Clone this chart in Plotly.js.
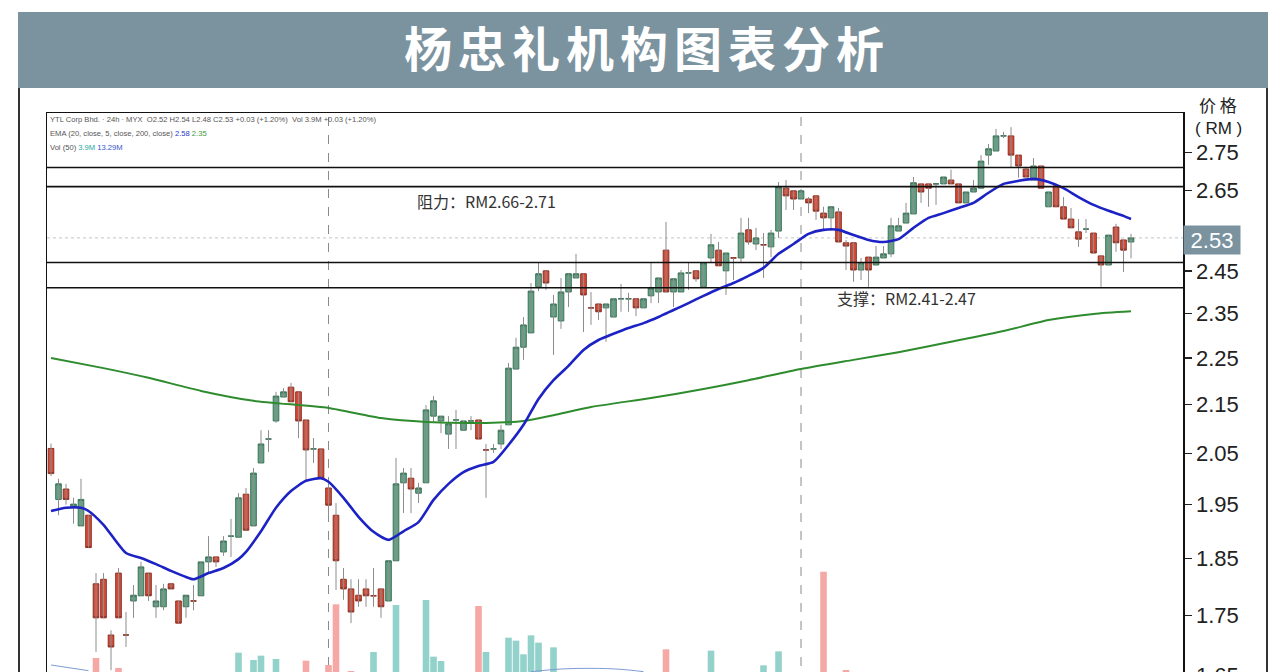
<!DOCTYPE html>
<html><head><meta charset="utf-8">
<script src="https://cdn.plot.ly/plotly-3.0.1.min.js"></script>
<style>
html,body{margin:0;padding:0;overflow:hidden;background:#fff;}
#chart{width:1280px;height:740px;}
.gtitle{letter-spacing:6px;}
</style></head>
<body><div id="chart"></div>
<script>
// ---- data (daily candles, YTL Corp) ----
const open  = [2.06,1.96,1.98,1.944,1.91,1.93,1.805,1.813,1.717,1.824,1.717,1.775,1.784,1.824,1.765,1.765,1.805,1.775,1.765,1.775,
1.784,1.844,1.853,1.862,1.891,1.889,1.970,1.910,2.031,2.079,2.116,2.166,2.187,2.177,2.118,2.059,2.059,1.982,1.930,1.813,
1.796,1.785,1.796,1.784,1.796,1.775,1.846,1.992,2.001,1.972,1.992,2.126,2.116,2.089,2.118,2.097,2.116,2.118,2.057,2.059,
2.069,2.108,2.226,2.274,2.306,2.412,2.450,2.342,2.333,2.400,2.433,2.443,2.363,2.372,2.363,2.342,2.384,2.384,2.384,2.363,
2.391,2.400,2.500,2.400,2.400,2.445,2.450,2.412,2.481,2.500,2.450,2.481,2.481,2.550,2.515,2.513,2.508,2.547,2.656,2.649,
2.628,2.628,2.636,2.592,2.580,2.595,2.518,2.518,2.452,2.483,2.464,2.481,2.491,2.547,2.567,2.590,2.667,2.667,2.667,2.667,
2.677,2.667,2.618,2.646,2.656,2.743,2.754,2.795,2.795,2.743,2.706,2.677,2.714,2.608,2.662,2.608,2.577,2.545,2.552,2.542,
2.486,2.464,2.557,2.525,2.52];
const high  = [2.07,2.00,1.99,1.963,2.00,1.93,1.824,1.824,1.725,1.833,1.756,1.803,1.844,1.824,1.803,1.805,1.805,1.775,1.785,1.803,
1.844,1.891,1.853,1.891,1.923,1.972,1.982,2.021,2.097,2.097,2.177,2.185,2.196,2.177,2.118,2.081,2.059,1.998,1.953,1.833,
1.813,1.813,1.813,1.833,1.796,1.846,2.041,2.021,2.021,1.992,2.149,2.168,2.126,2.126,2.139,2.116,2.126,2.118,2.069,2.069,
2.108,2.239,2.295,2.342,2.421,2.471,2.450,2.393,2.433,2.443,2.491,2.443,2.400,2.372,2.372,2.384,2.419,2.398,2.384,2.384,
2.471,2.433,2.570,2.431,2.452,2.469,2.450,2.469,2.540,2.520,2.493,2.481,2.580,2.580,2.555,2.542,2.550,2.672,2.677,2.649,
2.649,2.633,2.636,2.608,2.608,2.605,2.525,2.518,2.481,2.483,2.510,2.510,2.580,2.580,2.618,2.685,2.667,2.667,2.667,2.685,
2.704,2.667,2.646,2.677,2.743,2.773,2.814,2.806,2.819,2.743,2.712,2.735,2.714,2.646,2.662,2.633,2.605,2.577,2.577,2.542,
2.486,2.537,2.565,2.525,2.54];
const low   = [2.005,1.93,1.95,1.914,1.91,1.87,1.689,1.746,1.659,1.746,1.697,1.746,1.784,1.775,1.746,1.759,1.796,1.737,1.746,1.759,
1.784,1.824,1.835,1.855,1.853,1.889,1.902,1.910,2.031,2.053,2.112,2.166,2.156,2.081,1.998,2.031,2.001,1.925,1.794,1.777,
1.737,1.765,1.765,1.765,1.746,1.775,1.846,1.934,1.934,1.953,1.992,2.112,2.091,2.059,2.059,2.097,2.097,2.079,1.963,2.051,
2.059,2.108,2.226,2.246,2.306,2.402,2.405,2.257,2.315,2.365,2.433,2.308,2.324,2.335,2.286,2.342,2.354,2.354,2.344,2.363,
2.374,2.374,2.400,2.365,2.400,2.405,2.424,2.412,2.469,2.462,2.393,2.428,2.469,2.513,2.500,2.433,2.483,2.530,2.600,2.600,
2.628,2.592,2.575,2.547,2.547,2.520,2.452,2.424,2.428,2.412,2.464,2.481,2.483,2.547,2.567,2.590,2.618,2.608,2.613,2.667,
2.667,2.618,2.618,2.646,2.656,2.717,2.754,2.789,2.709,2.683,2.685,2.677,2.656,2.608,2.608,2.577,2.555,2.508,2.542,2.493,
2.412,2.464,2.496,2.447,2.48];
const close = [2.01,1.99,1.96,1.951,1.96,1.87,1.746,1.746,1.697,1.746,1.717,1.785,1.835,1.784,1.775,1.796,1.796,1.737,1.785,1.775,
1.844,1.853,1.844,1.882,1.891,1.963,1.902,2.011,2.069,2.079,2.168,2.177,2.156,2.116,2.057,2.059,2.001,1.949,1.846,1.796,
1.756,1.775,1.784,1.784,1.765,1.846,1.990,2.011,1.980,1.982,2.139,2.158,2.126,2.110,2.118,2.116,2.116,2.079,2.057,2.059,
2.097,2.228,2.274,2.324,2.402,2.443,2.421,2.372,2.400,2.443,2.443,2.393,2.363,2.354,2.372,2.384,2.384,2.384,2.363,2.384,
2.409,2.433,2.400,2.431,2.445,2.445,2.431,2.469,2.513,2.462,2.493,2.481,2.542,2.520,2.530,2.513,2.542,2.659,2.636,2.628,
2.649,2.618,2.597,2.580,2.608,2.520,2.510,2.452,2.469,2.452,2.483,2.491,2.560,2.560,2.592,2.670,2.646,2.656,2.667,2.685,
2.667,2.618,2.646,2.656,2.727,2.760,2.795,2.795,2.743,2.714,2.685,2.714,2.656,2.646,2.608,2.577,2.555,2.527,2.552,2.493,
2.464,2.537,2.518,2.500,2.53];

// EMA 20 (blue) and EMA 200 (green), sampled at candle indices
const ema20Idx = [0,2,4,5,7,10,12,14,16,18,19,21,23,25,26,28,30,32,34,36,37,39,41,43,45,47,49,51,53,55,57,59,61,63,65,67,69,71,73,75,77,79,81,83,85,87,89,91,93,95,97,99,101,103,105,107,109,111,113,115,117,119,121,123,125,127,129,131,133,135,137,139,141,143,144];
const ema20Val = [1.938,1.944,1.944,1.938,1.912,1.860,1.851,1.840,1.828,1.817,1.813,1.824,1.833,1.849,1.862,1.900,1.944,1.976,1.996,2.001,1.994,1.963,1.927,1.899,1.884,1.900,1.917,1.959,1.990,2.013,2.025,2.033,2.067,2.108,2.162,2.202,2.233,2.268,2.290,2.304,2.317,2.328,2.342,2.358,2.374,2.391,2.407,2.421,2.438,2.457,2.491,2.515,2.540,2.550,2.550,2.537,2.525,2.520,2.527,2.555,2.580,2.592,2.605,2.618,2.644,2.667,2.675,2.680,2.672,2.656,2.633,2.613,2.598,2.585,2.577];
const ema200Idx = [0,7,13,20,27,37,44,50,58,63,67,72,80,87,93,100,107,113,120,127,133,139,144];
const ema200Val = [2.250,2.228,2.207,2.179,2.158,2.143,2.122,2.114,2.112,2.116,2.128,2.145,2.164,2.183,2.202,2.226,2.246,2.263,2.286,2.310,2.335,2.349,2.355];

// Volume (millions) for the bars that show above the bottom edge
const volIdx = [6,9,25,27,28,30,34,37,38,40,43,46,50,51,52,57,58,61,62,63,64,65,67,82,88,95,97,103,106];
const volM   = [18.6,15.6,20.2,18.0,19.3,18.3,17.8,16.5,34.7,14.7,20.4,34.5,36.0,19.0,17.7,34.2,20.4,24.7,23.8,19.7,25.4,23.2,21.8,21.2,20.8,16.4,20.6,44.5,15.0];
// Vol MA(50), visible parts only (null = hidden below the edge)
const volMaIdx = [0,5,null,64,68,72,76,79];
const volMaM   = [16.5,14.8,null,14.5,15.3,15.5,15.2,14.5];

const levels = [2.41,2.47,2.66,2.71];        // support / resistance
const lastPrice = 2.53;
const dividers = [37,100];
const priceTicks = [1.65,1.75,1.85,1.95,2.05,2.15,2.25,2.35,2.45,2.65,2.75];

// ---- build ----
const idx = open.map((_,i)=>i);
const wx=[], wy=[];
idx.forEach(i=>{wx.push(i,i,null); wy.push(low[i],high[i],null);});
const bodyHi = idx.map(i=>Math.max(open[i],close[i]));
const bodyLo = idx.map(i=>Math.min(open[i],close[i]));
const volColors = volIdx.map(i=> close[i]>=open[i] ? '#93d2ca' : '#f5a8a6');

const traces = [
 {type:'bar', x:volIdx, y:volM.map(v=>v*1e6), marker:{color:volColors, line:{width:0}}, width:0.88, xaxis:'x', yaxis:'y', hoverinfo:'skip'},
 {type:'scatter', mode:'lines', x:volMaIdx, y:volMaM.map(v=>v===null?null:v*1e6), connectgaps:false, line:{color:'#7d9bd6', width:1, shape:'spline'}, xaxis:'x', yaxis:'y', hoverinfo:'skip'},
 {type:'scatter', mode:'lines', x:wx, y:wy, line:{color:'#8d8d8d', width:1}, xaxis:'x', yaxis:'y2', hoverinfo:'skip', connectgaps:false},
 {type:'candlestick', x:idx, open:open, high:bodyHi, low:bodyLo, close:close, xaxis:'x', yaxis:'y2',
  increasing:{line:{color:'#3b7358', width:1}, fillcolor:'#63a184'},
  decreasing:{line:{color:'#8e2f22', width:1}, fillcolor:'#d34d3a'}, whiskerwidth:0, hoverinfo:'skip'},
 {type:'scatter', mode:'lines', x:ema200Idx, y:ema200Val, line:{color:'#2e8b2e', width:2, shape:'spline', smoothing:0.6}, xaxis:'x', yaxis:'y2', hoverinfo:'skip'},
 {type:'scatter', mode:'lines', x:ema20Idx, y:ema20Val, line:{color:'#1c22c4', width:2.6, shape:'spline', smoothing:0.6}, xaxis:'x', yaxis:'y2', hoverinfo:'skip'}
];

// pixel helpers for paper coords (plot area: x 47..1183, y 113..720)
const PX=(p)=>(p-47)/1136, PY=(p)=>(720-p)/607;

const shapes = [
 {type:'rect', xref:'paper', yref:'paper', x0:PX(18), x1:PX(1268), y0:PY(88), y1:PY(12), fillcolor:'#7b939f', line:{width:0}, layer:'below'},
 {type:'line', xref:'paper', yref:'paper', x0:PX(19), x1:PX(19), y0:PY(740), y1:PY(88), line:{color:'#333', width:2}},
 {type:'line', xref:'paper', yref:'paper', x0:PX(1267), x1:PX(1267), y0:PY(740), y1:PY(88), line:{color:'#333', width:2}},
 {type:'line', xref:'paper', yref:'y2', x0:0, x1:1, y0:lastPrice, y1:lastPrice, line:{color:'#c4c4c4', width:1, dash:'dot'}, layer:'below'}
];
dividers.forEach(d=>shapes.push({type:'line', xref:'x', yref:'paper', x0:d, x1:d, y0:0, y1:1, line:{color:'#8a8a8a', width:1, dash:'dash'}, layer:'below'}));
levels.forEach(v=>shapes.push({type:'line', xref:'paper', yref:'y2', x0:0, x1:1, y0:v, y1:v, line:{color:'#111', width:1.6}, layer:'above'}));

const lastE20 = ema20Val[ema20Val.length-1].toFixed(2), lastE200 = ema200Val[ema200Val.length-1].toFixed(2);
const legFont = {family:'Liberation Sans, Arial', size:7.6, color:'#555'};
const A = (o)=>Object.assign({showarrow:false, yanchor:'middle'}, o);
const annotations = [
 A({xref:'paper', yref:'paper', x:PX(1218), y:PY(104), xanchor:'center', text:'价 格', font:{family:'Noto Sans CJK SC', size:17, color:'#222'}}),
 A({xref:'paper', yref:'paper', x:PX(1218), y:PY(128), xanchor:'center', text:'( RM )', font:{family:'Liberation Sans, Arial', size:17, color:'#222'}}),
 A({xref:'paper', yref:'paper', x:PX(415), y:PY(201), xanchor:'left', text:'阻力：RM'+levels[2].toFixed(2)+'-'+levels[3].toFixed(2), font:{family:'Noto Sans CJK SC', size:16, color:'#333'}}),
 A({xref:'paper', yref:'paper', x:PX(835), y:PY(298), xanchor:'left', text:'支撑：RM'+levels[0].toFixed(2)+'-'+levels[1].toFixed(2), font:{family:'Noto Sans CJK SC', size:16, color:'#333'}}),
 // log axis: annotation positions are given in log10 units
 A({xref:'paper', yref:'y2', x:1, y:Math.log10(lastPrice), xanchor:'left', yshift:-2, text:lastPrice.toFixed(2), bgcolor:'#7b939f', width:54, height:26, align:'center', font:{family:'Liberation Sans, Arial', size:22, color:'#fff'}}),
 A({xref:'paper', yref:'paper', x:PX(48), y:PY(119), xanchor:'left', font:legFont,
  text:'YTL Corp Bhd. · 24h · MYX  O'+open[144].toFixed(2)+' H'+high[144].toFixed(2)+' L'+low[144].toFixed(2)+' C'+close[144].toFixed(2)+' +0.03 (+1.20%)  Vol 3.9M +0.03 (+1.20%)'}),
 A({xref:'paper', yref:'paper', x:PX(48), y:PY(133), xanchor:'left', font:legFont,
  text:'EMA (20, close, 5, close, 200, close) <span style="color:#2a36c8">'+lastE20+'</span> <span style="color:#3a9a3a">'+lastE200+'</span>'}),
 A({xref:'paper', yref:'paper', x:PX(48), y:PY(147), xanchor:'left', font:legFont,
  text:'Vol (50) <span style="color:#26a69a">3.9M</span> <span style="color:#3355cc">13.29M</span>'})
];

const layout = {
 width:1280, height:740,
 margin:{l:47, r:97, t:113, b:20, pad:0},
 paper_bgcolor:'#fff', plot_bgcolor:'#fff',
 showlegend:false, hovermode:false,
 boxgap:0.25, boxgroupgap:0,
 title:{text:'杨忠礼机构图表分析', font:{family:'Noto Sans CJK SC', size:48, color:'#fff', weight:'bold'},
        xref:'container', yref:'container', x:647/1280, y:1-50/740, xanchor:'center', yanchor:'middle'},
 xaxis:{range:[-0.533,150.93], showgrid:false, zeroline:false, showticklabels:false, ticks:'', showline:true, mirror:true, linecolor:'#111', linewidth:1.5, rangeslider:{visible:false}},
 yaxis:{range:[0, 182.1e6], visible:false, showgrid:false, zeroline:false},
 yaxis2:{overlaying:'y', side:'right', type:'log', range:[0.198734,0.456080],
         tickvals:priceTicks, ticktext:priceTicks.map(v=>v.toFixed(2)),
         ticks:'outside', ticklen:7, tickwidth:1.5, tickcolor:'#222',
         tickfont:{family:'Liberation Sans, Arial', size:22, color:'#222'},
         showline:true, linecolor:'#111', linewidth:1.5, mirror:true, showgrid:false, zeroline:false},
 shapes:shapes, annotations:annotations
};
Plotly.newPlot('chart', traces, layout, {staticPlot:true, displayModeBar:false});
</script></body></html>
